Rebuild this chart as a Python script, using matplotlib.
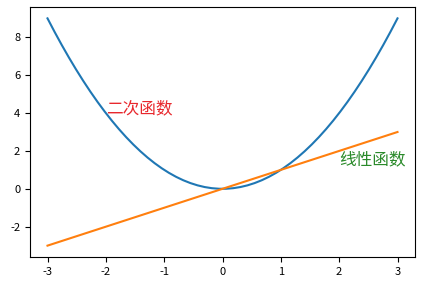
import numpy as np
import matplotlib
matplotlib.use("Agg")
import matplotlib.pyplot as plt

plt.rcParams['font.family'] = ['Noto Sans CJK SC', 'DejaVu Sans']
plt.rcParams['axes.unicode_minus'] = False

# Sample points and the two functions
x_min, x_max, n_points = -3, 3, 50
labels = ["二次函数", "线性函数"]
label_pos = [(-2, 4.25), (2, 1.55)]
label_colors = ["#e8282d", "#2a8a2a"]

x = np.linspace(x_min, x_max, n_points)
y_quad = x ** 2
y_lin = x

fig = plt.figure(figsize=(4.32, 2.86), dpi=100)
ax = fig.add_axes([30 / 432, 1 - 257 / 286, 385 / 432, 250 / 286])
ax.plot(x, y_quad)
ax.plot(x, y_lin)

for text, (tx, ty), c in zip(labels, label_pos, label_colors):
    ax.text(tx, ty, text, color=c, fontsize=12, va='center', ha='left')

ax.tick_params(labelsize=8)
fig.savefig("out.png", dpi=100)
